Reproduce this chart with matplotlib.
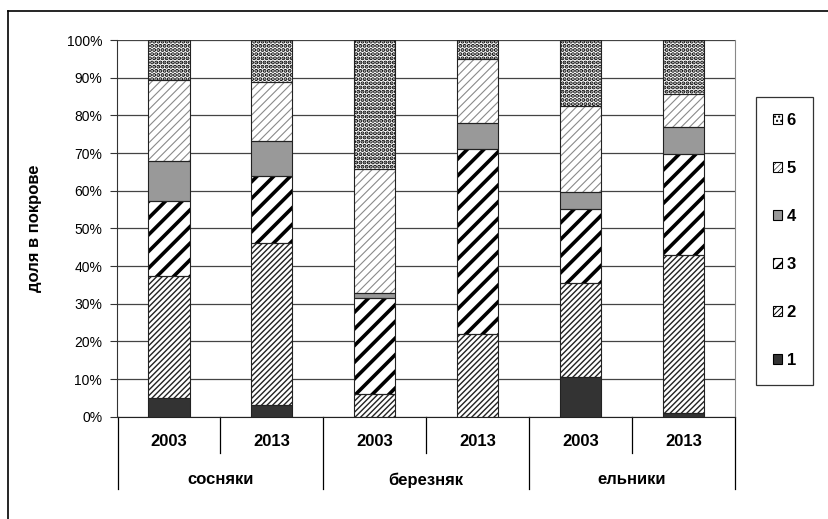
import matplotlib
matplotlib.use("Agg")
import matplotlib.pyplot as plt
from matplotlib.patches import Patch
from matplotlib.lines import Line2D

plt.rcParams['font.family'] = ['Liberation Sans', 'DejaVu Sans']

groups = ['сосняки', 'березняк', 'ельники']
years = ['2003', '2013', '2003', '2013', '2003', '2013']
labels = ['1', '2', '3', '4', '5', '6']
s1 = [5.0, 3.0, 0.0, 0.0, 10.6, 0.9]
s2 = [32.3, 43.2, 5.9, 22.0, 25.0, 41.9]
s3 = [20.0, 17.7, 25.7, 49.1, 19.5, 26.9]
s4 = [10.7, 9.2, 1.3, 6.8, 4.6, 7.3]
s5 = [21.5, 15.7, 32.8, 17.0, 22.7, 8.6]
s6 = [10.5, 11.2, 34.3, 5.1, 17.6, 14.4]
series = [s1, s2, s3, s4, s5, s6]

# facecolor, hatch, hatch colour, hatch linewidth, legend hatch, legend hatch lw
styles = [
    ('#333333', None, '#333333', 1.0, None, 1.0),
    ('white', '//////', '#222222', 1.0, '//////', 0.7),
    ('white', '//', 'black', 2.6, '///', 1.3),
    ('#999999', None, '#999999', 1.0, None, 1.0),
    ('white', '////', '#8a8a8a', 0.8, '//////', 0.4),
    ('white', '....', 'black', 2.0, '....', 1.0),
]

fig = plt.figure(figsize=(8.29, 5.19), dpi=100)
ax = fig.add_axes([117.5 / 829, 1 - 416.7 / 519, (735 - 117.5) / 829, (416.7 - 40) / 519])

x = list(range(len(years)))
bottom = [0.0] * len(years)
handles = []
leg_lw = []
for vals, (fc, h, hc, hlw, lh, llw), lab in zip(series, styles, labels):
    with plt.rc_context({'hatch.linewidth': hlw}):
        bars = ax.bar(x, vals, 0.4, bottom=bottom, color=fc, hatch=h,
                      edgecolor=hc, linewidth=0, zorder=3)
    for b in bars:
        if hasattr(b, 'set_hatch_linewidth'):
            b.set_hatch_linewidth(hlw)
    ax.bar(x, vals, 0.4, bottom=bottom, fill=False, edgecolor='#222222',
           linewidth=0.8, zorder=4)
    handles.append(Patch(facecolor=fc, hatch=lh, edgecolor='black', linewidth=0.8, label=lab))
    leg_lw.append(llw)
    bottom = [b + v for b, v in zip(bottom, vals)]

ax.set_xlim(-0.5, 5.5)
ax.set_ylim(0, 100)
ax.set_yticks(range(0, 101, 10))
ax.set_yticklabels([f'{v}%' for v in range(0, 101, 10)], fontsize=10)
ax.tick_params(axis='y', length=5, width=0.8, color='#333333', pad=6)
ax.tick_params(axis='x', length=0, labelbottom=False)
ax.yaxis.grid(True, color='#444444', linewidth=0.9, zorder=0)
ax.set_axisbelow(True)
ax.spines['top'].set_visible(False)
ax.spines['right'].set_color('#888888')
ax.spines['left'].set_color('#333333')
ax.spines['bottom'].set_color('#222222')

ax.set_ylabel('доля в покрове', fontsize=12, fontweight='bold', labelpad=18)

# category axis: years and groups
tr = ax.get_xaxis_transform()
for i, y in enumerate(years):
    ax.text(i, -0.067, y, transform=tr, ha='center', va='center',
            fontsize=12, fontweight='bold')
for g, name in enumerate(groups):
    ax.text(2 * g + 0.5, -0.168, name, transform=tr, ha='center', va='center',
            fontsize=12, fontweight='bold')
for k in range(7):
    xpos = k - 0.5
    y0 = -0.192 if k % 2 == 0 else -0.0964
    ax.add_line(Line2D([xpos, xpos], [0, y0], transform=tr, color='black',
                       linewidth=0.9, clip_on=False))

leg = fig.legend(handles=handles[::-1], loc='upper left',
                 bbox_to_anchor=(756 / 829, 1 - 96.7 / 519),
                 frameon=True, fancybox=False, edgecolor='black',
                 prop={'weight': 'bold', 'size': 12},
                 handlelength=0.55, handleheight=0.55, handletextpad=0.3,
                 labelspacing=1.98, borderpad=1.0, borderaxespad=0)
leg.get_frame().set_linewidth(0.9)
for p, w in zip(leg.get_patches(), leg_lw[::-1]):
    if hasattr(p, 'set_hatch_linewidth'):
        p.set_hatch_linewidth(w)

# outer frame of the document figure
fig.add_artist(Line2D([8 / 829, 8 / 829], [0, 1 - 11 / 519], color='black', linewidth=1.2))
fig.add_artist(Line2D([8 / 829, 1], [1 - 11 / 519, 1 - 11 / 519], color='black', linewidth=1.2))

fig.savefig('out.png', dpi=100)
